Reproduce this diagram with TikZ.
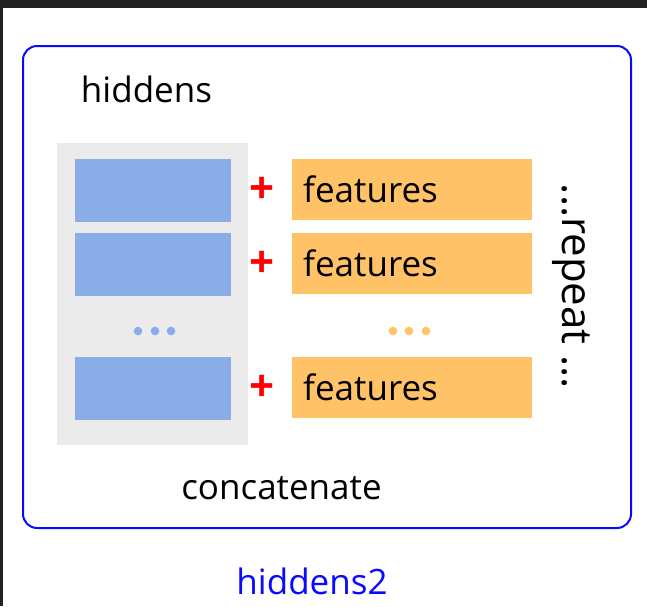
\documentclass[tikz,border=0pt]{standalone}
\usepackage{fontspec}
\setmainfont{Open Sans}
\definecolor{framedark}{HTML}{222222}
\definecolor{outerblue}{HTML}{0A0AFF}
\definecolor{hidblue}{HTML}{8AADE8}
\definecolor{featorange}{HTML}{FFC266}
\definecolor{panelgray}{HTML}{EBEBEB}
\definecolor{plusred}{HTML}{FF0000}
\begin{document}
\begin{tikzpicture}[x=1pt,y=-1pt,
  lbl/.style={font=\fontsize{35}{42}\selectfont, inner sep=0pt},
  hidbox/.style={fill=hidblue, draw=none, minimum width=156pt, minimum height=63pt, anchor=north west, inner sep=0pt},
  featbox/.style={fill=featorange, draw=none, minimum width=240pt, minimum height=61pt, anchor=north west, inner sep=0pt},
  plussign/.style={text=plusred, font=\fontsize{44}{50}\selectfont\bfseries, inner sep=0pt},
  featlbl/.style={lbl, anchor=west},
  dotblue/.style={fill=hidblue, draw=none},
  dotorange/.style={fill=featorange, draw=none}]
  \useasboundingbox (0,0) rectangle (647,606);
  \fill[white] (0,0) rectangle (647,606);
  % dark window edge
  \fill[framedark] (0,0) rectangle (647,8);
  \fill[framedark] (0,0) rectangle (3,606);

  % outer rounded frame
  \node[draw=outerblue, line width=2pt, rounded corners=14pt, minimum width=608pt, minimum height=482pt, anchor=north west, inner sep=0pt] (outer) at (22,45) {};

  \node[lbl, anchor=base] (hiddens) at (146.5,102) {hiddens};

  % grey panel with hidden blocks
  \node[fill=panelgray, minimum width=191pt, minimum height=302pt, anchor=north west, inner sep=0pt] (panel) at (57,143) {};
  \node[hidbox] (h1) at (75,159) {};
  \node[hidbox] (h2) at (75,233) {};
  \node[hidbox] (h3) at (75,357) {};
  \foreach \x in {138,155,171} \fill[dotblue] (\x,331) circle (4.3pt);

  % plus signs
  \node[plussign] (p1) at (262,190) {+};
  \node[plussign] (p2) at (262,264) {+};
  \node[plussign] (p3) at (262,388) {+};

  % feature blocks
  \node[featbox] (f1) at (292,159) {};
  \node[featbox] (f2) at (292,233) {};
  \node[featbox] (f3) at (292,357) {};
  \node[featlbl] at ([xshift=11pt]f1.west) {features};
  \node[featlbl] at ([xshift=11pt]f2.west) {features};
  \node[featlbl] at ([xshift=11pt]f3.west) {features};
  \foreach \x in {393,409,426} \fill[dotorange] (\x,331) circle (4.3pt);

  \node[font=\fontsize{42}{50}\selectfont, inner sep=0pt, rotate=-90] (repeat) at (571,286.5) {...repeat ...};

  \node[lbl, anchor=base] (concat) at (281.5,499) {concatenate};

  \node[lbl, anchor=base, text=outerblue] (hid2) at (312,594) {hiddens2};
\end{tikzpicture}
\end{document}
